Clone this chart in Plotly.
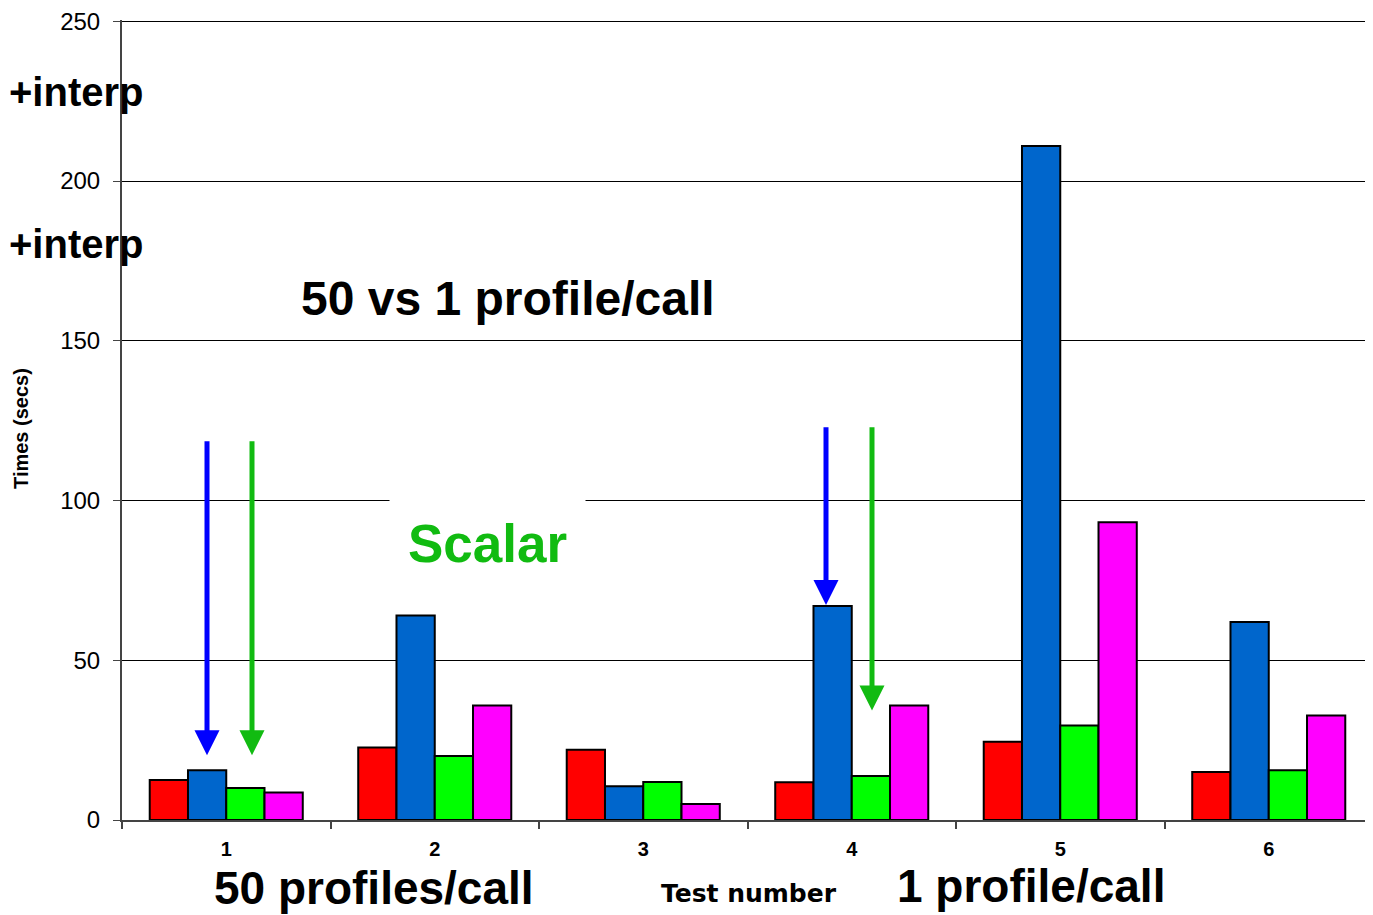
import plotly.graph_objects as go

tests = ["1", "2", "3", "4", "5", "6"]
red_vals = [12.5, 22.7, 22, 11.8, 24.5, 15]
blue_vals = [15.6, 64, 10.6, 67, 211, 62]
green_vals = [10, 20, 11.9, 13.8, 29.6, 15.6]
magenta_vals = [8.6, 35.8, 5, 35.8, 93.2, 32.7]

FONT = "Liberation Sans, Arial, sans-serif"

fig = go.Figure()
for vals, col in [(red_vals, "#ff0000"), (blue_vals, "#0066cc"),
                  (green_vals, "#00ff00"), (magenta_vals, "#ff00ff")]:
    fig.add_trace(go.Bar(x=tests, y=vals, marker_color=col,
                         marker_line_color="black", marker_line_width=2,
                         showlegend=False))

# page body adds an 8px offset, so figure is 8px smaller than the window
fig.update_layout(
    width=1365, height=907,
    margin=dict(l=114, r=0, t=10, b=95),
    plot_bgcolor="white", paper_bgcolor="white",
    barmode="group", bargap=0.266, bargroupgap=0,
    font=dict(family=FONT, color="black"),
)
fig.update_xaxes(type="category", tickson="boundaries", ticks="outside", ticklen=7,
                 tickcolor="#444", tickwidth=1.5, showline=True, linecolor="#444",
                 linewidth=2, showgrid=False,
                 tickfont=dict(size=20, family=FONT, weight="bold"),
                 ticklabelstandoff=10)
fig.update_yaxes(range=[0, 250.4], tickvals=[0, 50, 100, 150, 200, 250],
                 ticks="outside", ticklen=7, ticklabeloverflow="allow",
                 tickcolor="#444", showline=True, linecolor="#444", linewidth=2,
                 showgrid=True, gridcolor="black", gridwidth=1, zeroline=False,
                 tickfont=dict(size=24, family=FONT), ticklabelstandoff=8)

def px2paper(px, py):
    return (px - 122) / 1251, (820 - py) / 802

def label(text, px, py, size, color="black", fam=FONT, **kw):
    x, y = px2paper(px, py)
    fig.add_annotation(text=text, x=x, y=y, xref="paper", yref="paper",
                       xanchor="center", yanchor="middle", showarrow=False,
                       font=dict(size=size, color=color, family=fam, weight="bold"), **kw)

label("+interp", 76, 90, 40)
label("+interp", 76, 243, 40)
label("50 vs 1 profile/call", 508, 297, 48)
label("Scalar", 487, 543, 53, color="#11bb11", bgcolor="white", borderpad=18)
label("50 profiles/call", 374, 888, 46)
label("1 profile/call", 1031, 886, 46)
label("Test number", 749, 894, 25, fam="DejaVu Sans")
label("Times (secs)", 21, 427, 20, textangle=-90)

# arrows: (pixel x, tip value, tail value, colour)
arrows = [(207, 20.3, 119, "#0000ff"), (252, 20.3, 119, "#11bb11"),
          (826, 67.3, 123.4, "#0000ff"), (872, 34.3, 123.4, "#11bb11")]
for px, tip, tail, col in arrows:
    x, _ = px2paper(px, 0)
    fig.add_annotation(text="", x=x, y=tip, xref="paper", yref="y",
                       ax=0, axref="pixel", ay=tail, ayref="y",
                       showarrow=True, arrowhead=2, arrowsize=1,
                       arrowwidth=5, arrowcolor=col, standoff=0)

fig.write_html("out.html")
